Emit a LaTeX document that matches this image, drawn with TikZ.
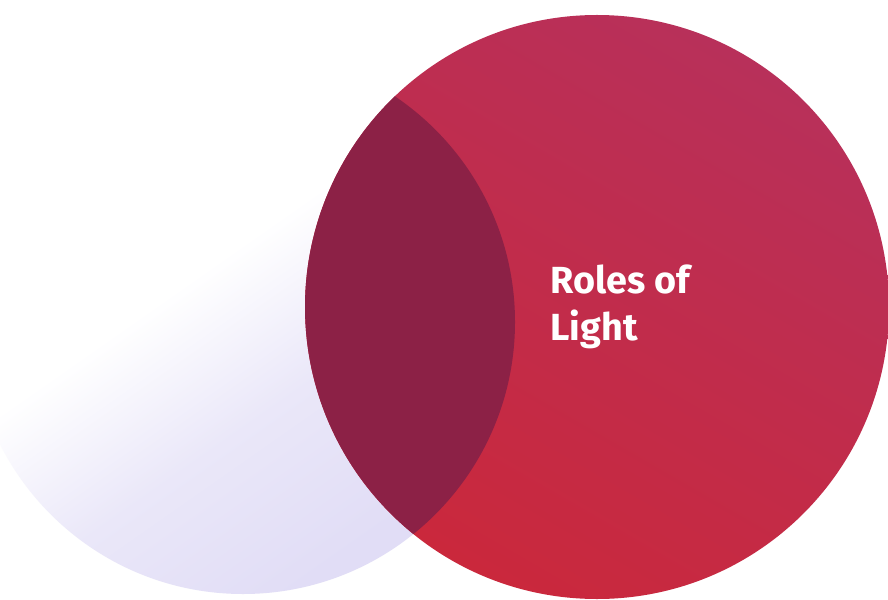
\documentclass[tikz,border=0pt]{standalone}
\usepackage{fontspec}
\setsansfont{Fira Sans}
\definecolor{lavender}{RGB}{225,221,246}
\definecolor{rosered}{RGB}{184,48,90}
\definecolor{deepred}{RGB}{202,40,60}
\definecolor{wine}{RGB}{140,33,70}
\pgfdeclareverticalshading{lavfade}{100bp}{
    color(0bp)=(lavender); color(27bp)=(lavender);
    color(42bp)=(lavender!70!white); color(56bp)=(white);
    color(100bp)=(white)}
\begin{document}
\begin{tikzpicture}[
    x = 0.02cm,
    y = 0.02cm,
    lightdisc/.style = {
        shading = lavfade,
        shading angle = 35
    },
    reddisc/.style = {
        left color = rosered,
        right color = deepred,
        shading angle = -30
    },
    overlap/.style = {
        fill = wine
    },
    title/.style = {
        text = white,
        font = \sffamily\bfseries\fontsize{21.5}{27.2}\selectfont,
        align = left,
        inner sep = 0pt,
        anchor = north west
    }
]

    % frame
    \useasboundingbox [fill = white] (0,0) rectangle (888,599);

    % the two discs
    \shade [lightdisc] (243,277) circle [radius = 272];
    \shade [reddisc] (597,292) circle [radius = 292];

    % their common part
    \begin{scope}
        \clip (243,277) circle [radius = 272];
        \fill [overlap] (597,292) circle [radius = 292];
    \end{scope}

    % label
    \node [title] (roles) at (550,335) {Roles of\\Light};

\end{tikzpicture}
\end{document}
